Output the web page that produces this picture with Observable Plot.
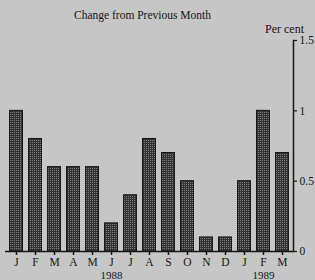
<!DOCTYPE html>
<html><head><meta charset="utf-8">
<script src="https://cdn.jsdelivr.net/npm/d3@7"></script>
<script src="https://cdn.jsdelivr.net/npm/@observablehq/plot@0.6"></script>
<style>
html,body{margin:0;padding:0;background:#c6c6c6;}
</style>
</head><body><div id="chart"></div>
<script>
const months = ["J","F","M","A","M","J","J","A","S","O","N","D","J","F","M"];
const values = [1.0,0.8,0.6,0.6,0.6,0.2,0.4,0.8,0.7,0.5,0.1,0.1,0.5,1.0,0.7];
const yearLabels = ["1988","1989"];
const yearIndex = [5,13];
const yTicks = [0,0.5,1,1.5];
const yTickLabels = ["0","0.5","1","1.5"];
const title = "Change from Previous Month";
const unit = "Per cent";

const keys = months.map((m,i)=>String(i));
const data = months.map((m,i)=>({key:keys[i], month:m, value:values[i]}));
const years = yearLabels.map((y,i)=>({key:keys[yearIndex[i]], label:y}));

const font = "Liberation Serif, Times New Roman, serif";
const ink = "#151515";
const plot = Plot.plot({
  width:315, height:280,
  marginTop:40, marginBottom:29, marginLeft:5, marginRight:22,
  style:{background:"#c6c6c6", fontFamily:font, fontSize:"12px", color:ink},
  x:{domain:keys, paddingInner:0.32, paddingOuter:0.24, round:false, axis:null, label:null},
  y:{domain:[0,1.5], axis:null, label:null},
  marks:[
    Plot.barY(data,{x:"key", y:"value", fill:"url(#stip)", stroke:ink, strokeWidth:1}),
    Plot.ruleY([0],{stroke:ink, strokeWidth:1.5}),
    Plot.frame({anchor:"right", stroke:ink, strokeWidth:1.5}),
    Plot.axisX({tickSize:4, tickPadding:2, tickFormat:(d)=>months[+d], fontSize:11.5, stroke:ink, fill:ink, strokeWidth:1.5, label:null}),
    Plot.axisY({anchor:"right", ticks:yTicks, tickFormat:(d)=>yTickLabels[yTicks.indexOf(d)], tickSize:3, tickPadding:3, fontSize:11.5, stroke:ink, fill:ink, strokeWidth:1.2, label:null}),
    Plot.text(years,{x:"key", y:()=>0, text:"label", dy:23.5, fontSize:11, fill:ink}),
    Plot.text([title],{frameAnchor:"top", textAnchor:"middle", lineAnchor:"middle", dx:-7, dy:-25, fontSize:11.5, fill:ink}),
    Plot.text([unit],{frameAnchor:"top-right", textAnchor:"middle", lineAnchor:"middle", dx:-9, dy:-11, fontSize:12, fill:ink})
  ]
});
const svgns = "http://www.w3.org/2000/svg";
const defs = document.createElementNS(svgns,"defs");
defs.innerHTML = '<pattern id="stip" width="2" height="2" patternUnits="userSpaceOnUse"><rect width="2" height="2" fill="#333"/><rect x="0" y="0" width="1" height="1" fill="#7e7e7e"/></pattern>';
plot.insertBefore(defs, plot.firstChild);
document.getElementById("chart").appendChild(plot);
</script>
</body></html>
